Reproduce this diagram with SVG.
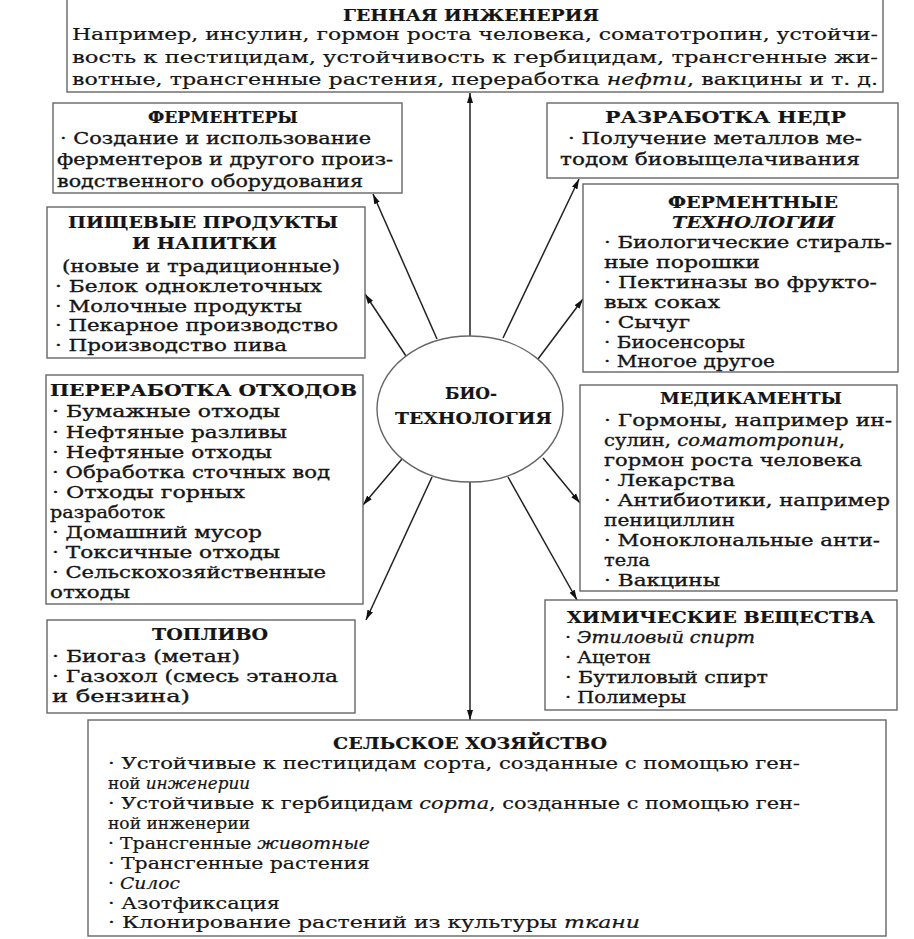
<svg xmlns="http://www.w3.org/2000/svg" width="914" height="939" viewBox="0 0 914 939">
<defs>
<style>
.box{fill:#fff;stroke:#666;stroke-width:1.4}
.t{font-family:"DejaVu Serif","Liberation Serif",serif;font-size:17px;fill:#151515;stroke:#151515;stroke-width:0.35}
.s{font-size:16px;stroke-width:0.2}
.h{font-weight:bold;stroke-width:0.2}
.i{font-style:italic}
.c{text-anchor:middle}
.ln{stroke:#222;stroke-width:1.5;fill:none;marker-end:url(#ah)}
</style>
<marker id="ah" markerUnits="userSpaceOnUse" markerWidth="11" markerHeight="7" refX="10" refY="3.5" orient="auto">
<path d="M0,0.5 L10,3.5 L0,6.5 Z" fill="#111"/>
</marker>
</defs>
<rect width="914" height="939" fill="#fff"/>

<g id="connectors">
<line class="ln" x1="470" y1="336" x2="470" y2="93"/>
<line class="ln" x1="437" y1="339" x2="373" y2="194"/>
<line class="ln" x1="406" y1="356" x2="365" y2="294"/>
<line class="ln" x1="503" y1="338" x2="579" y2="179"/>
<line class="ln" x1="538" y1="359" x2="583" y2="299"/>
<line class="ln" x1="402" y1="459" x2="363" y2="505"/>
<line class="ln" x1="432" y1="477" x2="366" y2="620"/>
<line class="ln" x1="470" y1="482" x2="470" y2="720"/>
<line class="ln" x1="543" y1="458" x2="580" y2="503"/>
<line class="ln" x1="508" y1="477" x2="577" y2="600"/>
</g>

<g id="center">
<ellipse cx="470" cy="409" rx="93" ry="73" fill="#fff" stroke="#666" stroke-width="1.4"/>
<text class="t h" x="445" y="399" textLength="52" lengthAdjust="spacingAndGlyphs">БИО-</text>
<text class="t h" x="395" y="424" textLength="157" lengthAdjust="spacingAndGlyphs">ТЕХНОЛОГИЯ</text>
</g>

<g id="genetic">
<rect class="box" x="67" y="-2" width="816" height="94"/>
<text class="t s h" x="343" y="21" textLength="256" lengthAdjust="spacingAndGlyphs">ГЕННАЯ ИНЖЕНЕРИЯ</text>
<text class="t s" x="72" y="40" textLength="806" lengthAdjust="spacingAndGlyphs">Например, инсулин, гормон роста человека, соматотропин, устойчи-</text>
<text class="t s" x="72" y="63" textLength="806" lengthAdjust="spacingAndGlyphs">вость к пестицидам, устойчивость к гербицидам, трансгенные жи-</text>
<text class="t s" x="72" y="85" textLength="806" lengthAdjust="spacingAndGlyphs">вотные, трансгенные растения, переработка <tspan class="i">нефти</tspan>, вакцины и т. д.</text>
</g>

<g id="fermenters">
<rect class="box" x="53" y="103" width="349" height="90"/>
<text class="t h" x="148" y="123" textLength="150" lengthAdjust="spacingAndGlyphs">ФЕРМЕНТЕРЫ</text>
<text class="t" x="60" y="144" textLength="311" lengthAdjust="spacingAndGlyphs">· Создание и использование</text>
<text class="t" x="57" y="165" textLength="336" lengthAdjust="spacingAndGlyphs">ферментеров и другого произ-</text>
<text class="t" x="57" y="187" textLength="306" lengthAdjust="spacingAndGlyphs">водственного оборудования</text>
</g>

<g id="food">
<rect class="box" x="47" y="207" width="318" height="151"/>
<text class="t h" x="68" y="228" textLength="270" lengthAdjust="spacingAndGlyphs">ПИЩЕВЫЕ ПРОДУКТЫ</text>
<text class="t h" x="132" y="249" textLength="145" lengthAdjust="spacingAndGlyphs">И НАПИТКИ</text>
<text class="t" x="62" y="272" textLength="278" lengthAdjust="spacingAndGlyphs">(новые и традиционные)</text>
<text class="t" x="55" y="292" textLength="267" lengthAdjust="spacingAndGlyphs">· Белок одноклеточных</text>
<text class="t" x="55" y="312" textLength="247" lengthAdjust="spacingAndGlyphs">· Молочные продукты</text>
<text class="t" x="55" y="331" textLength="283" lengthAdjust="spacingAndGlyphs">· Пекарное производство</text>
<text class="t" x="55" y="351" textLength="232" lengthAdjust="spacingAndGlyphs">· Производство пива</text>
</g>

<g id="waste">
<rect class="box" x="46" y="375" width="317" height="229"/>
<text class="t h" x="50" y="396" textLength="307" lengthAdjust="spacingAndGlyphs">ПЕРЕРАБОТКА ОТХОДОВ</text>
<text class="t" x="52" y="417" textLength="228" lengthAdjust="spacingAndGlyphs">· Бумажные отходы</text>
<text class="t" x="52" y="438" textLength="235" lengthAdjust="spacingAndGlyphs">· Нефтяные разливы</text>
<text class="t" x="52" y="458" textLength="220" lengthAdjust="spacingAndGlyphs">· Нефтяные отходы</text>
<text class="t" x="52" y="478" textLength="278" lengthAdjust="spacingAndGlyphs">· Обработка сточных вод</text>
<text class="t" x="52" y="498" textLength="193" lengthAdjust="spacingAndGlyphs">· Отходы горных</text>
<text class="t" x="50" y="518" textLength="115" lengthAdjust="spacingAndGlyphs">разработок</text>
<text class="t" x="52" y="538" textLength="210" lengthAdjust="spacingAndGlyphs">· Домашний мусор</text>
<text class="t" x="52" y="558" textLength="228" lengthAdjust="spacingAndGlyphs">· Токсичные отходы</text>
<text class="t" x="52" y="578" textLength="274" lengthAdjust="spacingAndGlyphs">· Сельскохозяйственные</text>
<text class="t" x="50" y="598" textLength="80" lengthAdjust="spacingAndGlyphs">отходы</text>
</g>

<g id="fuel">
<rect class="box" x="47" y="620" width="308" height="93"/>
<text class="t h" x="152" y="640" textLength="116" lengthAdjust="spacingAndGlyphs">ТОПЛИВО</text>
<text class="t" x="52" y="662" textLength="188" lengthAdjust="spacingAndGlyphs">· Биогаз (метан)</text>
<text class="t" x="52" y="682" textLength="286" lengthAdjust="spacingAndGlyphs">· Газохол (смесь этанола</text>
<text class="t" x="52" y="702" textLength="138" lengthAdjust="spacingAndGlyphs">и бензина)</text>
</g>

<g id="mining">
<rect class="box" x="547" y="103" width="351" height="75"/>
<text class="t h" x="605" y="123" textLength="241" lengthAdjust="spacingAndGlyphs">РАЗРАБОТКА НЕДР</text>
<text class="t" x="568" y="144" textLength="294" lengthAdjust="spacingAndGlyphs">· Получение металлов ме-</text>
<text class="t" x="560" y="165" textLength="300" lengthAdjust="spacingAndGlyphs">тодом биовыщелачивания</text>
</g>

<g id="enzyme">
<rect class="box" x="583" y="184" width="315" height="188"/>
<text class="t h" x="668" y="208" textLength="170" lengthAdjust="spacingAndGlyphs">ФЕРМЕНТНЫЕ</text>
<text class="t h i" x="672" y="228" textLength="163" lengthAdjust="spacingAndGlyphs">ТЕХНОЛОГИИ</text>
<text class="t" x="604" y="248" textLength="288" lengthAdjust="spacingAndGlyphs">· Биологические стираль-</text>
<text class="t" x="604" y="268" textLength="156" lengthAdjust="spacingAndGlyphs">ные порошки</text>
<text class="t" x="604" y="288" textLength="273" lengthAdjust="spacingAndGlyphs">· Пектиназы во фрукто-</text>
<text class="t" x="604" y="308" textLength="116" lengthAdjust="spacingAndGlyphs">вых соках</text>
<text class="t" x="604" y="328" textLength="86" lengthAdjust="spacingAndGlyphs">· Сычуг</text>
<text class="t" x="604" y="348" textLength="141" lengthAdjust="spacingAndGlyphs">· Биосенсоры</text>
<text class="t" x="604" y="367" textLength="171" lengthAdjust="spacingAndGlyphs">· Многое другое</text>
</g>

<g id="medicine">
<rect class="box" x="580" y="385" width="317" height="206"/>
<text class="t h" x="660" y="404" textLength="182" lengthAdjust="spacingAndGlyphs">МЕДИКАМЕНТЫ</text>
<text class="t" x="604" y="426" textLength="288" lengthAdjust="spacingAndGlyphs">· Гормоны, например ин-</text>
<text class="t" x="604" y="446" textLength="241" lengthAdjust="spacingAndGlyphs">сулин, <tspan class="i">соматотропин</tspan>,</text>
<text class="t" x="604" y="466" textLength="258" lengthAdjust="spacingAndGlyphs">гормон роста человека</text>
<text class="t" x="604" y="486" textLength="131" lengthAdjust="spacingAndGlyphs">· Лекарства</text>
<text class="t" x="604" y="506" textLength="286" lengthAdjust="spacingAndGlyphs">· Антибиотики, например</text>
<text class="t" x="604" y="526" textLength="131" lengthAdjust="spacingAndGlyphs">пенициллин</text>
<text class="t" x="604" y="546" textLength="276" lengthAdjust="spacingAndGlyphs">· Моноклональные анти-</text>
<text class="t" x="604" y="566" textLength="46" lengthAdjust="spacingAndGlyphs">тела</text>
<text class="t" x="604" y="586" textLength="116" lengthAdjust="spacingAndGlyphs">· Вакцины</text>
</g>

<g id="chemicals">
<rect class="box" x="545" y="600" width="352" height="110"/>
<text class="t h" x="567" y="623" textLength="308" lengthAdjust="spacingAndGlyphs">ХИМИЧЕСКИЕ ВЕЩЕСТВА</text>
<text class="t" x="565" y="643" textLength="190" lengthAdjust="spacingAndGlyphs">· <tspan class="i">Этиловый спирт</tspan></text>
<text class="t" x="565" y="663" textLength="86" lengthAdjust="spacingAndGlyphs">· Ацетон</text>
<text class="t" x="565" y="683" textLength="203" lengthAdjust="spacingAndGlyphs">· Бутиловый спирт</text>
<text class="t" x="565" y="703" textLength="121" lengthAdjust="spacingAndGlyphs">· Полимеры</text>
</g>

<g id="agriculture">
<rect class="box" x="88" y="720" width="798" height="216"/>
<text class="t s h" x="333" y="749" textLength="274" lengthAdjust="spacingAndGlyphs">СЕЛЬСКОЕ ХОЗЯЙСТВО</text>
<text class="t s" x="108" y="769" textLength="692" lengthAdjust="spacingAndGlyphs">· Устойчивые к пестицидам сорта, созданные с помощью ген-</text>
<text class="t s" x="108" y="789" textLength="142" lengthAdjust="spacingAndGlyphs">ной <tspan class="i">инженерии</tspan></text>
<text class="t s" x="108" y="809" textLength="692" lengthAdjust="spacingAndGlyphs">· Устойчивые к гербицидам <tspan class="i">сорта</tspan>, созданные с помощью ген-</text>
<text class="t s" x="108" y="829" textLength="142" lengthAdjust="spacingAndGlyphs">ной инженерии</text>
<text class="t s" x="108" y="849" textLength="262" lengthAdjust="spacingAndGlyphs">· Трансгенные <tspan class="i">животные</tspan></text>
<text class="t s" x="108" y="869" textLength="262" lengthAdjust="spacingAndGlyphs">· Трансгенные растения</text>
<text class="t s" x="108" y="889" textLength="72" lengthAdjust="spacingAndGlyphs">· <tspan class="i">Силос</tspan></text>
<text class="t s" x="108" y="909" textLength="172" lengthAdjust="spacingAndGlyphs">· Азотфиксация</text>
<text class="t s" x="108" y="928" textLength="532" lengthAdjust="spacingAndGlyphs">· Клонирование растений из культуры <tspan class="i">ткани</tspan></text>
</g>
</svg>
